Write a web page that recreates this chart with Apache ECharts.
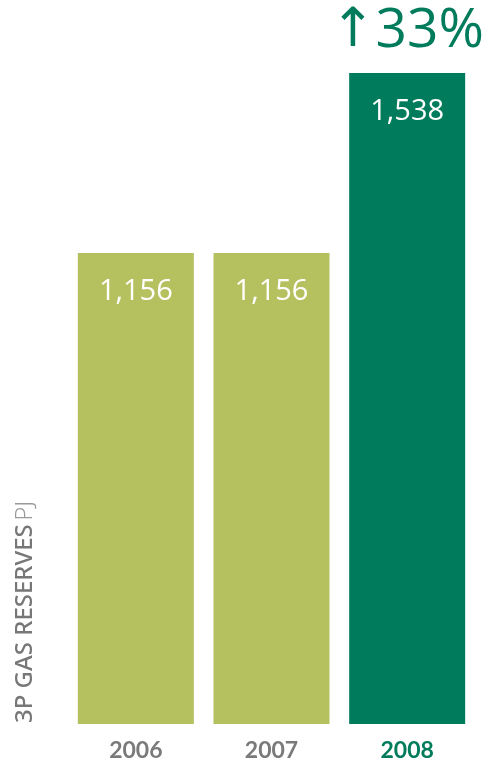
<!DOCTYPE html>
<html>
<head>
<meta charset="utf-8">
<script src="https://cdn.jsdelivr.net/npm/echarts@6/dist/echarts.min.js"></script>
<style>
  html, body { margin: 0; padding: 0; background: #fff; }
  #chart { width: 489px; height: 763px; }
</style>
</head>
<body>
<div id="chart"></div>
<script>
// data
const years = ["2006", "2007", "2008"];
const reserves = [1156, 1156, 1538];
const changeArrow = "↑";
const changeText = "33%";

const olive = "#B5C05F";
const green = "#007B5B";
const grey = "#7A7A7A";

let myChart = echarts.init(document.getElementById("chart"));

let option = {
  animation: false,
  grid: {
    left: 68,
    right: 14,
    top: 73,
    bottom: 39,
  },
  xAxis: {
    type: "category",
    data: years,
    axisLine: { show: false },
    axisTick: { show: false },
    axisLabel: {
      margin: 15,
      fontFamily: "Lato",
      fontWeight: "bold",
      fontSize: 23,
      color: function (value, index) {
        return index === years.length - 1 ? green : grey;
      },
    },
  },
  yAxis: {
    type: "value",
    // the original is not drawn from zero
    min: 156,
    max: 1538,
    show: false,
  },
  graphic: [
    {
      type: "text",
      x: 37,
      y: 723,
      rotation: Math.PI / 2,
      style: {
        text: "{b|3P GAS RESERVES} {l|PJ}",
        align: "left",
        verticalAlign: "bottom",
        rich: {
          b: {
            fontFamily: "Noto Sans",
            fontWeight: 500,
            fontSize: 24,
            fill: "#777777",
          },
          l: {
            fontFamily: "Noto Sans",
            fontWeight: 300,
            fontSize: 24,
            fill: "#9A9A9A",
          },
        },
      },
    },
  ],
  series: [
    {
      type: "bar",
      barWidth: 116,
      data: reserves.map((v, i) => ({
        value: v,
        itemStyle: { color: i === reserves.length - 1 ? green : olive },
      })),
      label: {
        show: true,
        position: "insideTop",
        distance: 24,
        color: "#fff",
        fontFamily: "Open Sans",
        fontSize: 29,
        formatter: function (p) {
          return Number(p.value).toLocaleString("en-US");
        },
      },
      markPoint: {
        symbol: "circle",
        symbolSize: 0,
        data: [
          {
            coord: [years.length - 1, reserves[reserves.length - 1]],
            label: {
              show: true,
              position: "top",
              distance: 14,
              formatter: "{a|" + changeArrow + "}{n|" + changeText + "}",
              rich: {
                a: {
                  color: green,
                  fontFamily: "DejaVu Sans",
                  fontSize: 54,
                },
                n: {
                  color: green,
                  fontFamily: "Open Sans",
                  fontSize: 55,
                },
              },
            },
          },
        ],
      },
    },
  ],
};

myChart.setOption(option);
</script>
</body>
</html>
